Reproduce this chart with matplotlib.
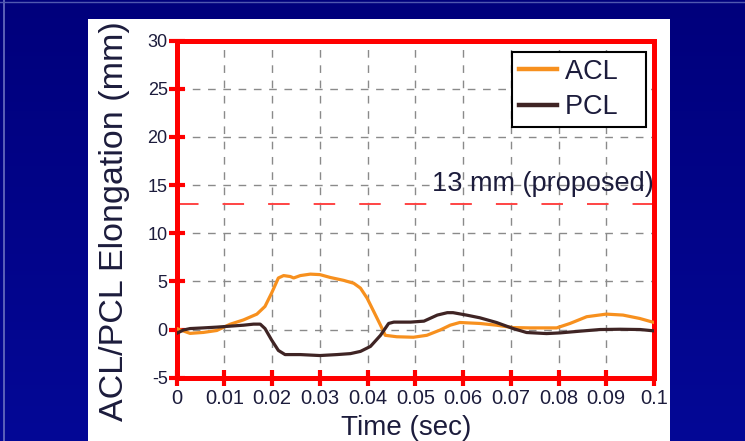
import numpy as np
import matplotlib
matplotlib.use("Agg")
import matplotlib.pyplot as plt
from matplotlib.colors import LinearSegmentedColormap

plt.rcParams['font.family'] = ['Liberation Sans', 'DejaVu Sans']
plt.rcParams['lines.scale_dashes'] = False
plt.rcParams['axes.unicode_minus'] = False

# ---- data ----
acl_t = [0.0, 0.0028, 0.0056, 0.0084, 0.0112, 0.014, 0.0168, 0.0185, 0.0199, 0.0213,
         0.0224, 0.0238, 0.0245, 0.0259, 0.028, 0.030, 0.0322, 0.035, 0.0371, 0.0385,
         0.0399, 0.0413, 0.0427, 0.0437, 0.0461, 0.0496, 0.0524, 0.0552, 0.0573, 0.0593,
         0.0635, 0.067, 0.0705, 0.074, 0.0796, 0.0824, 0.0859, 0.09, 0.0935, 0.097, 0.1]
acl_v = [0.1, -0.4, -0.3, -0.1, 0.55, 1.0, 1.6, 2.4, 3.8, 5.35,
         5.6, 5.5, 5.35, 5.6, 5.75, 5.7, 5.4, 5.1, 4.8, 4.3,
         3.25, 1.85, 0.45, -0.6, -0.75, -0.8, -0.6, -0.05, 0.45, 0.73,
         0.63, 0.45, 0.2, 0.17, 0.17, 0.63, 1.33, 1.6, 1.5, 1.15, 0.73]

pcl_t = [0.0, 0.0014, 0.0028, 0.0056, 0.0084, 0.0112, 0.014, 0.0161, 0.0175, 0.0185,
         0.0199, 0.0213, 0.0227, 0.0259, 0.030, 0.0336, 0.0364, 0.0385, 0.0406, 0.0427,
         0.0444, 0.0455, 0.049, 0.0518, 0.0546, 0.0567, 0.0579, 0.0607, 0.0635, 0.067,
         0.0705, 0.0733, 0.0775, 0.0803, 0.0845, 0.0887, 0.0929, 0.0971, 0.1]
pcl_v = [-0.4, -0.05, 0.1, 0.17, 0.25, 0.35, 0.45, 0.56, 0.56, 0.1,
         -1.1, -2.17, -2.6, -2.6, -2.7, -2.6, -2.5, -2.27, -1.75, -0.6,
         0.63, 0.77, 0.77, 0.87, 1.5, 1.75, 1.75, 1.5, 1.22, 0.73,
         0.1, -0.31, -0.42, -0.35, -0.17, 0.0, 0.03, 0.0, -0.14]

threshold = 13
threshold_label = "13 mm (proposed)"
series_labels = ["ACL", "PCL"]
x_ticks = [0, 0.01, 0.02, 0.03, 0.04, 0.05, 0.06, 0.07, 0.08, 0.09, 0.1]
x_ticklabels = ["0", "0.01", "0.02", "0.03", "0.04", "0.05", "0.06", "0.07", "0.08", "0.09", "0.1"]
y_ticks = [-5, 0, 5, 10, 15, 20, 25, 30]
xlabel = "Time (sec)"
ylabel = "ACL/PCL Elongation (mm)"

W, H = 745, 441
fig = plt.figure(figsize=(W / 100, H / 100), dpi=100)

# navy slide background with gradient
bg = fig.add_axes([0, 0, 1, 1], zorder=-10)
grad = np.linspace(0, 1, 256).reshape(-1, 1)
cmap = LinearSegmentedColormap.from_list("navy", ["#00007c", "#040896"])
bg.imshow(grad, aspect='auto', cmap=cmap, extent=[0, 1, 0, 1], origin='upper')
bg.axvline(4 / W, color='#6a70c0', lw=1.2)
bg.axhline(1 - 2 / H, color='#5058b0', lw=1.0)
# white panel
bg.add_patch(plt.Rectangle((88 / W, 0), (670 - 88) / W, 1 - 19 / H, color='white', lw=0))
bg.set_xlim(0, 1)
bg.set_ylim(0, 1)
bg.axis('off')

ax = fig.add_axes([176.7 / W, 1 - 377.7 / H, (654 - 176.7) / W, (377.7 - 40.5) / H])
ax.set_facecolor('white')
ax.set_xlim(0, 0.1)
ax.set_ylim(-5, 30)

txt_color = '#1c1c3c'
ax.set_xticks(x_ticks)
ax.set_xticklabels(x_ticklabels)
ax.set_yticks(y_ticks)
ax.tick_params(axis='x', direction='inout', length=12, width=3, color='#ff0000',
               labelsize=14.5, labelcolor=txt_color, pad=2)
ax.tick_params(axis='y', direction='inout', length=11, width=3, color='#ff0000',
               labelsize=13, labelcolor=txt_color, pad=1)

for s in ax.spines.values():
    s.set_color('#ff0000')
    s.set_linewidth(3.6)

ax.grid(True, color='#8a8a8a', linestyle=(0, (5.5, 5.5)), linewidth=1.0)
ax.set_axisbelow(True)

ax.axhline(threshold, color='#ff4444', linewidth=1.4, linestyle=(0, (15.5, 17.3)), zorder=2)
ax.text(0.0999, 14.35, threshold_label, ha='right', va='baseline', fontsize=19.5,
        color=txt_color, zorder=3)

ax.plot(acl_t, acl_v, color='#f7901e', lw=2.3, label=series_labels[0] + "   ", zorder=4)
ax.plot(pcl_t, pcl_v, color='#3f2424', lw=2.3, label=series_labels[1] + "   ", zorder=5)

leg = ax.legend(loc='upper right', bbox_to_anchor=(0.983, 0.966), fontsize=19.5,
                frameon=True, fancybox=False, framealpha=1, edgecolor='black',
                handlelength=1.4, handletextpad=0.3, labelspacing=0.35,
                borderpad=0.25, borderaxespad=0)
leg.get_frame().set_linewidth(1.5)
for line in leg.get_lines():
    line.set_linewidth(3.2)
for t in leg.get_texts():
    t.set_color(txt_color)

fig.text(406.5 / W, 1 - 435 / H, xlabel, ha='center', va='baseline', fontsize=20,
         color=txt_color)
fig.text(114 / W, 1 - 221 / H, ylabel, ha='center', va='center', rotation=90,
         fontsize=24.5, color=txt_color)

fig.savefig('out.png', dpi=100)
